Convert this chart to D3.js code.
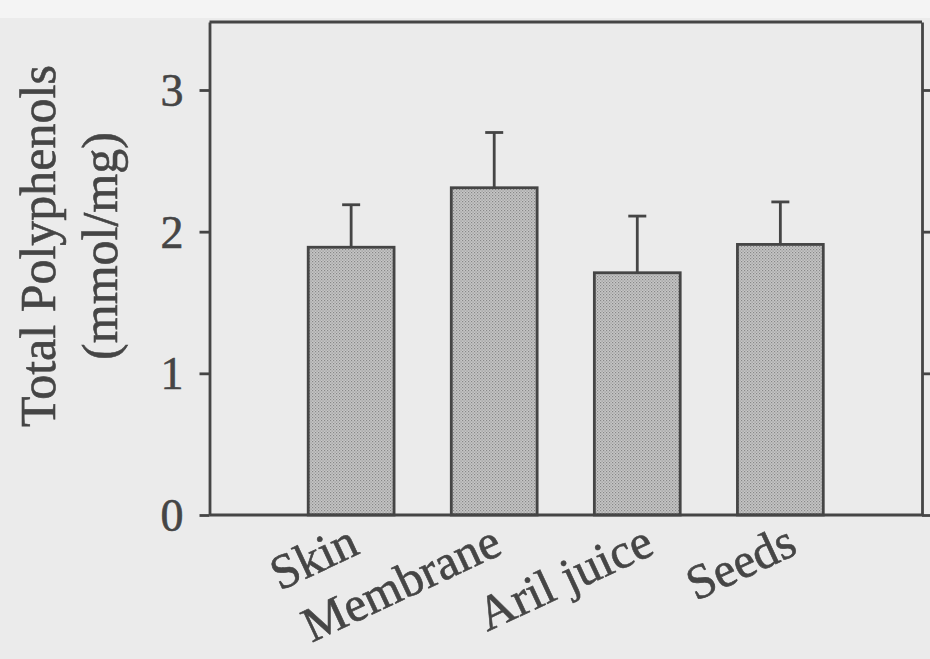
<!DOCTYPE html>
<html>
<head>
<meta charset="utf-8">
<script src="https://cdn.jsdelivr.net/npm/d3@7"></script>
<style>
  html, body { margin: 0; padding: 0; background: #ececec; }
  svg { display: block; }
</style>
</head>
<body>
<svg id="chart" width="930" height="659"></svg>
<script>
const categories = ["Skin", "Membrane", "Aril juice", "Seeds"];
const values = [1.89, 2.31, 1.71, 1.91];
const errors = [0.30, 0.39, 0.40, 0.30];
const yTicks = [0, 1, 2, 3];
const yTitle = ["Total Polyphenols", "(mmol/mg)"];

(function () {
const W = 930, H = 659;
const mLeft = 209.5, mRight = 922, mTop = 22, mBottom = 515;
const ink = "#454545";
const fontFamily = "'Liberation Serif', 'DejaVu Serif', serif";

const svg = d3.select("#chart");

svg.append("rect").attr("width", W).attr("height", H).attr("fill", "#ebebeb");
svg.append("rect").attr("width", W).attr("height", 18).attr("fill", "#f4f4f4");

const defs = svg.append("defs");
const pat = defs.append("pattern").attr("id", "dots")
  .attr("patternUnits", "userSpaceOnUse").attr("width", 3).attr("height", 3);
pat.append("rect").attr("width", 3).attr("height", 3).attr("fill", "#c6c6c6");
pat.append("rect").attr("x", 0).attr("y", 0).attr("width", 1.2).attr("height", 1.2).attr("fill", "#888");
pat.append("rect").attr("x", 1.5).attr("y", 1.5).attr("width", 1.2).attr("height", 1.2).attr("fill", "#969696");

const y = d3.scaleLinear().domain([0, 3.48]).range([mBottom, mTop]);
const x = d3.scaleBand().domain(categories).range([mLeft, mRight])
  .paddingInner(0.4).paddingOuter(0.69);

const data = categories.map((c, i) => ({ c, v: values[i], e: errors[i] }));

svg.append("g").selectAll("rect").data(data).join("rect")
  .attr("x", d => x(d.c))
  .attr("y", d => y(d.v))
  .attr("width", x.bandwidth())
  .attr("height", d => y(0) - y(d.v))
  .attr("fill", "url(#dots)")
  .attr("stroke", ink)
  .attr("stroke-width", 2.8);

const eb = svg.append("g").attr("stroke", ink).attr("stroke-width", 2.8);
eb.selectAll("line.v").data(data).join("line").attr("class", "v")
  .attr("x1", d => x(d.c) + x.bandwidth() / 2)
  .attr("x2", d => x(d.c) + x.bandwidth() / 2)
  .attr("y1", d => y(d.v))
  .attr("y2", d => y(d.v + d.e));
eb.selectAll("line.c").data(data).join("line").attr("class", "c")
  .attr("x1", d => x(d.c) + x.bandwidth() / 2 - 9)
  .attr("x2", d => x(d.c) + x.bandwidth() / 2 + 9)
  .attr("y1", d => y(d.v + d.e))
  .attr("y2", d => y(d.v + d.e));

svg.append("line").attr("x1", mLeft).attr("x2", mRight).attr("y1", mTop).attr("y2", mTop)
  .attr("stroke", ink).attr("stroke-width", 2.8);
svg.append("line").attr("x1", mLeft).attr("x2", mRight).attr("y1", mBottom).attr("y2", mBottom)
  .attr("stroke", ink).attr("stroke-width", 2.8);

const gl = svg.append("g").attr("transform", `translate(${mLeft},0)`)
  .call(d3.axisLeft(y).tickValues(yTicks).tickSize(10).tickSizeOuter(0).tickPadding(16)
    .tickFormat(d3.format("d")));
gl.select(".domain").attr("stroke", ink).attr("stroke-width", 2.8);
gl.selectAll(".tick line").attr("stroke", ink).attr("stroke-width", 2.8);
gl.selectAll(".tick text").attr("fill", ink).attr("stroke", ink).attr("stroke-width", 0.6)
  .attr("font-family", fontFamily).attr("font-size", 46).attr("dy", "0.34em");

const gr = svg.append("g").attr("transform", `translate(${mRight},0)`)
  .call(d3.axisRight(y).tickValues(yTicks).tickSize(10).tickSizeOuter(0).tickFormat(""));
gr.select(".domain").attr("stroke", ink).attr("stroke-width", 2.8);
gr.selectAll(".tick line").attr("stroke", ink).attr("stroke-width", 2.8);

svg.append("g").selectAll("text").data(data).join("text")
  .attr("transform", (d, i) => `translate(${x(d.c) + x.bandwidth() / 2 + (i < 2 ? 10 : 19)},553) rotate(-25)`)
  .attr("text-anchor", "end")
  .attr("font-family", fontFamily)
  .attr("font-size", 49)
  .attr("fill", ink)
  .attr("stroke", ink).attr("stroke-width", 0.6)
  .text(d => d.c);

const tg = svg.append("g").attr("transform", "translate(0,246) rotate(-90)");
tg.selectAll("text").data(yTitle).join("text")
  .attr("x", 0)
  .attr("y", (d, i) => i === 0 ? 55 : 117)
  .attr("text-anchor", "middle")
  .attr("font-family", fontFamily)
  .attr("font-size", 50)
  .attr("fill", ink)
  .attr("stroke", ink).attr("stroke-width", 0.6)
  .text(d => d);
})();
</script>
</body>
</html>
